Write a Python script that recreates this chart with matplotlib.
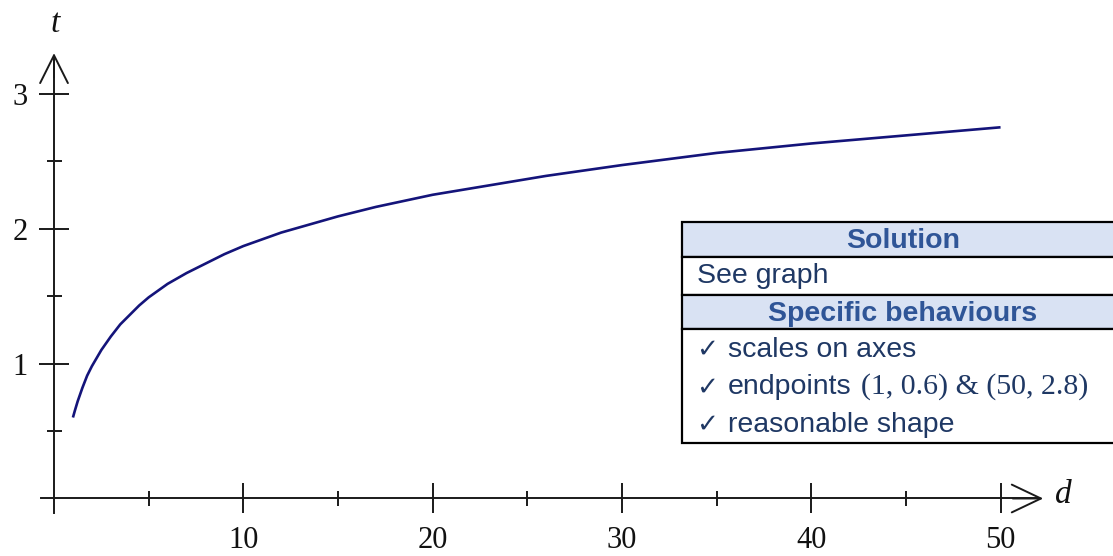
import numpy as np
import matplotlib
matplotlib.use("Agg")
import matplotlib.pyplot as plt
from matplotlib.patches import Rectangle

# values
d = [1, 1.1, 1.25, 1.5, 1.75, 2, 2.5, 3, 3.5, 4, 4.5, 5, 5.5, 6, 7, 8, 9, 10, 11, 12,
     13, 14, 15, 17, 20, 23, 26, 30, 35, 40, 45, 50]
t = [0.60, 0.65, 0.72, 0.82, 0.91, 0.98, 1.10, 1.20, 1.29, 1.36, 1.43, 1.49, 1.54, 1.59,
     1.67, 1.74, 1.81, 1.87, 1.92, 1.97, 2.01, 2.05, 2.09, 2.16, 2.25, 2.32, 2.39, 2.47,
     2.56, 2.63, 2.69, 2.75]

x_major = [10, 20, 30, 40, 50]
x_minor = [5, 15, 25, 35, 45]
y_major = [1, 2, 3]
y_minor = [0.5, 1.5, 2.5]

behaviours = ["scales on axes", "endpoints", "reasonable shape"]

W, H = 1113, 556
fig = plt.figure(figsize=(W / 100, H / 100), dpi=100)
ax = fig.add_axes([0, 0, 1, 1])
ax.set_xlim(-2.853, 55.94)
ax.set_ylim(-0.426, 3.693)

axcol = "#1a1a1a"
ax.spines["top"].set_visible(False)
ax.spines["right"].set_visible(False)
ax.spines["left"].set_position(("data", 0))
ax.spines["bottom"].set_position(("data", 0))
ax.spines["left"].set_bounds(-0.11, 3.25)
ax.spines["bottom"].set_bounds(-0.7, 52.0)
for s in ["left", "bottom"]:
    ax.spines[s].set_linewidth(1.4)
    ax.spines[s].set_color(axcol)

ax.set_xticks(x_major)
ax.set_xticks(x_minor, minor=True)
ax.set_yticks(y_major)
ax.set_yticks(y_minor, minor=True)
ax.set_xticklabels([str(v) for v in x_major])
ax.set_yticklabels([str(v) for v in y_major])
ax.tick_params(which="major", direction="inout", length=21.6, width=1.4, color=axcol)
ax.tick_params(which="minor", direction="inout", length=10.8, width=1.4, color=axcol)
ax.tick_params(axis="x", which="major", pad=9)
ax.tick_params(axis="y", which="major", pad=8)
for lab in ax.get_xticklabels() + ax.get_yticklabels():
    lab.set_fontfamily("Liberation Serif")
    lab.set_fontsize(22)
    lab.set_color("#111111")

# arrow heads
ax.annotate("", xy=(52.4, 0), xytext=(50.5, 0),
            arrowprops=dict(arrowstyle="->,head_length=1.05,head_width=0.5",
                            mutation_scale=20, lw=1.4, color=axcol))
ax.annotate("", xy=(0, 3.32), xytext=(0, 3.1),
            arrowprops=dict(arrowstyle="->,head_length=1.0,head_width=0.5",
                            mutation_scale=20, lw=1.4, color=axcol))
ax.text(53.3, 0.03, "d", fontsize=24, fontstyle="italic", family="Liberation Serif",
        ha="center", va="center", color="#111111")
ax.text(0.05, 3.52, "t", fontsize=24, fontstyle="italic", family="Liberation Serif",
        ha="center", va="center", color="#111111")

ax.plot(d, t, color="#14147a", lw=1.9, solid_capstyle="butt", solid_joinstyle="round")


# marking table, placed in pixel coordinates of the figure
def px(x, y):
    return x / W, 1 - y / H


hdr_bg = "#d9e2f3"
hdr_fg = "#2f5597"
body_fg = "#1f3864"
left, right = 682, 1125
rows = [(222, 257, hdr_bg), (257, 295, "white"), (295, 329, hdr_bg), (329, 443, "white")]
for top, bot, bg in rows:
    x0, y0 = px(left, bot)
    x1, y1 = px(right, top)
    fig.add_artist(Rectangle((x0, y0), x1 - x0, y1 - y0, transform=fig.transFigure,
                             facecolor=bg, edgecolor="black", lw=1.6))

sans = ["Liberation Sans", "DejaVu Sans"]
fs = 20.5
fig.text(*px(903, 241), "Solution", fontsize=fs, fontweight="bold", color=hdr_fg,
         family=sans, ha="center", va="center")
fig.text(*px(903, 314), "Specific behaviours", fontsize=fs, fontweight="bold", color=hdr_fg,
         family=sans, ha="center", va="center")
fig.text(*px(697, 276), "See graph", fontsize=fs, color=body_fg,
         family=sans, ha="left", va="center")
for i, b in enumerate(behaviours):
    yy = 350 + i * 37.5
    fig.text(*px(696, yy), "\u2713", fontsize=19, color=body_fg,
             family=["DejaVu Sans"], ha="left", va="center")
    fig.text(*px(728, yy), b, fontsize=fs, color=body_fg,
             family=sans, ha="left", va="center")
fig.text(*px(861, 387), "(1, 0.6) & (50, 2.8)", fontsize=21.5, color=body_fg,
         family="Liberation Serif", ha="left", va="center")

fig.savefig("out.png", dpi=100, facecolor="white")
